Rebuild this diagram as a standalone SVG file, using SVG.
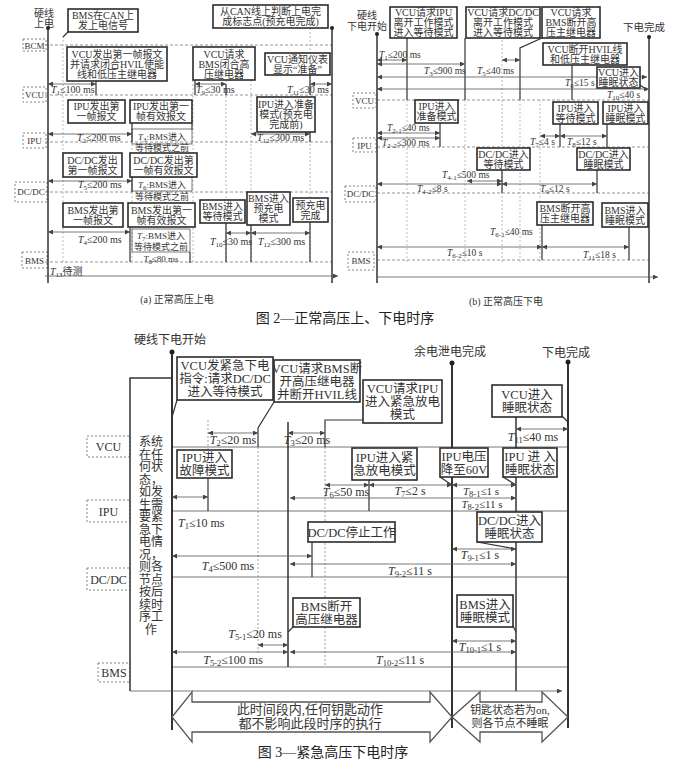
<svg xmlns="http://www.w3.org/2000/svg" width="694" height="781" viewBox="0 0 694 781">
<defs>
<marker id="ah" viewBox="0 0 10 10" refX="10" refY="5" markerWidth="6" markerHeight="5" markerUnits="userSpaceOnUse" orient="auto-start-reverse"><path d="M0,0 L10,5 L0,10 z" fill="#444"/></marker>
</defs>
<style>
text{font-family:"Liberation Serif","Noto Sans CJK SC",serif;fill:#333}
.bx{fill:#fff;stroke:#2b2b2b;stroke-width:1.6}
.lb{fill:#fff;stroke:#777;stroke-width:0.9;stroke-dasharray:2 2}
.rd{stroke:#888;stroke-width:0.9;stroke-dasharray:3 2;fill:none}
.rs{stroke:#777;stroke-width:1;fill:none}
.vd{stroke:#aaa;stroke-width:0.8;stroke-dasharray:2 2;fill:none}
.sl{stroke:#333;stroke-width:1.2;fill:none}
.hv{stroke:#333;stroke-width:2;fill:none}
.th{stroke:#555;stroke-width:0.8;fill:none}
.a1{stroke:#555;stroke-width:0.8;fill:none;marker-end:url(#ah)}
.a2{stroke:#555;stroke-width:0.8;fill:none;marker-start:url(#ah);marker-end:url(#ah)}
.f10{font-size:10px;text-anchor:middle}
.f9{font-size:9px;text-anchor:middle}
.f12{font-size:12.5px;text-anchor:middle}
.l10{font-size:10px}
.l9{font-size:9.5px}
.m12{font-size:12px;text-anchor:middle}
.m11{font-size:11px;text-anchor:middle}
.l12{font-size:12px}
.i{font-style:italic}
.s7{font-size:7px}
.s8{font-size:8.5px}
.cap{font-size:14px;text-anchor:middle;fill:#222}
.fat{fill:#fff;stroke:#555;stroke-width:1.3}
</style>

<!-- ================= Panel (a) ================= -->
<g id="a-labels">
<text class="f10" x="44" y="17">硬线</text>
<text class="f10" x="44" y="27">上电</text>
<rect class="lb" x="23" y="39" width="23" height="12"/><text class="f9" x="34.5" y="48.5">BCM</text>
<rect class="lb" x="23" y="87" width="23" height="15"/><text class="f9" x="34.5" y="98">VCU</text>
<rect class="lb" x="23" y="133" width="23" height="15"/><text class="f9" x="34.5" y="144">IPU</text>
<rect class="lb" x="15" y="182" width="32" height="20"/><text class="f9" x="31" y="195">DC/DC</text>
<rect class="lb" x="22" y="252" width="25" height="16"/><text class="f9" x="34.5" y="263.5">BMS</text>
</g>
<g id="a-connectors">
<path class="rd" d="M45,45H332M45,95H332M45,142H332M45,192H332M45,262H332"/>
<path class="vd" d="M63,36V262M132,100V262M193,80V262M226,80V262M251,80V262M310,28V262"/>
<path class="hv" d="M48,28V283M332,28V283" style="stroke-width:1.5"/>
<circle cx="48" cy="28" r="2" fill="#222"/><circle cx="332" cy="28" r="2" fill="#222"/>
<path class="a1" d="M45,276H338"/>
<path class="sl" d="M68,32L63,37M96,80V95M195,80V95M226,84V95M310,75V95M132,123V142M192,123V130M310,128V142M132,177V192M130,227V262M226,223V262M251,225V262M310,222V262M190,252V263"/>
<path class="th" d="M132,129H192V144H132ZM132,177H192V191H132ZM132,229H190V252H132Z"/>
<path class="a2" d="M48,84H96"/><path class="a2" d="M195,84H226"/><path class="a2" d="M310,84H332"/>
<path class="a2" d="M48,134H132"/><path class="a2" d="M251,134H310"/>
<path class="a2" d="M48,181H132"/>
<path class="a2" d="M48,232H130"/><path class="a2" d="M226,233H251"/><path class="a2" d="M251,233H310"/>
</g>
<g id="a-timing">
<text class="l10" x="51" y="93"><tspan class="i">T</tspan><tspan class="s7" dy="2">1</tspan><tspan dy="-2">≤100 ms</tspan></text>
<text class="l10" x="196" y="93"><tspan class="i">T</tspan><tspan class="s7" dy="2">9</tspan><tspan dy="-2">≤30 ms</tspan></text>
<text class="l10" x="287" y="93"><tspan class="i">T</tspan><tspan class="s7" dy="2">11</tspan><tspan dy="-2">≤30 ms</tspan></text>
<text class="l10" x="77" y="141"><tspan class="i">T</tspan><tspan class="s7" dy="2">2</tspan><tspan dy="-2">≤200 ms</tspan></text>
<text class="f9" x="162" y="139.5"><tspan class="i">T</tspan><tspan class="s7" dy="2">3</tspan><tspan dy="-2">:BMS进入</tspan></text>
<text class="f9" x="162" y="151">等待模式之前</text>
<text class="l10" x="257" y="141"><tspan class="i">T</tspan><tspan class="s7" dy="2">12</tspan><tspan dy="-2">≤300 ms</tspan></text>
<text class="l10" x="78" y="188"><tspan class="i">T</tspan><tspan class="s7" dy="2">5</tspan><tspan dy="-2">≤200 ms</tspan></text>
<text class="f9" x="162" y="187.5"><tspan class="i">T</tspan><tspan class="s7" dy="2">6</tspan><tspan dy="-2">:BMS进入</tspan></text>
<text class="f9" x="162" y="199.5">等待模式之前</text>
<text class="l10" x="78" y="243"><tspan class="i">T</tspan><tspan class="s7" dy="2">4</tspan><tspan dy="-2">≤200 ms</tspan></text>
<text class="f9" x="161" y="239"><tspan class="i">T</tspan><tspan class="s7" dy="2">7</tspan><tspan dy="-2">:BMS进入</tspan></text>
<text class="f9" x="161" y="250">等待模式之前</text>
<text class="f9" x="161" y="261.5"><tspan class="i">T</tspan><tspan class="s7" dy="2">8</tspan><tspan dy="-2">≤80 ms</tspan></text>
<text class="l10" x="210" y="245"><tspan class="i">T</tspan><tspan class="s7" dy="2">10</tspan><tspan dy="-2">≤30 ms</tspan></text>
<text class="l10" x="258" y="245"><tspan class="i">T</tspan><tspan class="s7" dy="2">12</tspan><tspan dy="-2">≤300 ms</tspan></text>
<text class="l10" x="50" y="275"><tspan class="i">T</tspan><tspan class="s7" dy="2">13</tspan><tspan dy="-2">待测</tspan></text>
</g>
<g id="a1"><rect class="bx" x="68" y="9" width="70" height="23"/><text class="f10" x="103" y="18.8">BMS在CAN上</text><text class="f10" x="103" y="29">发上电信号</text></g>
<g id="a2"><rect class="bx" x="213" y="5" width="115" height="23"/><text class="f10" x="270.5" y="14.8">从CAN线上判断上电完</text><text class="f10" x="270.5" y="25">成标志点(预充电完成)</text></g>
<g id="a3"><rect class="bx" x="67" y="47" width="100" height="34"/><text class="f10" x="117" y="58">VCU发出第一帧报文</text><text class="f10" x="117" y="68">并请求闭合HVIL使能</text><text class="f10" x="117" y="78">线和低压主继电器</text></g>
<g id="a4"><rect class="bx" x="193" y="47" width="62" height="33"/><text class="f10" x="224" y="57.5">VCU请求</text><text class="f10" x="224" y="67.5">BMS闭合高</text><text class="f10" x="224" y="77.5">压继电器</text></g>
<g id="a5"><rect class="bx" x="265" y="53" width="65" height="22"/><text class="f10" x="297.5" y="62.5">VCU通知仪表</text><text class="f10" x="297.5" y="72.5">显示“准备”</text></g>
<g id="a6"><rect class="bx" x="68" y="100" width="57" height="23"/><text class="f10" x="96.5" y="110">IPU发出第</text><text class="f10" x="96.5" y="120">一帧报文</text></g>
<g id="a7"><rect class="bx" x="130" y="100" width="62" height="23"/><text class="f10" x="161" y="110">IPU发出第一</text><text class="f10" x="161" y="120">帧有效报文</text></g>
<g id="a8"><rect class="bx" x="257" y="97" width="58" height="35"/><text class="f10" x="286" y="108">IPU进入准备</text><text class="f10" x="286" y="118">模式(预充电</text><text class="f10" x="286" y="128">完成前)</text></g>
<g id="a9"><rect class="bx" x="63" y="153" width="59" height="24"/><text class="f10" x="92.5" y="163.5">DC/DC发出</text><text class="f10" x="92.5" y="173.5">第一帧报文</text></g>
<g id="a10"><rect class="bx" x="130" y="153" width="67" height="24"/><text class="f10" x="163.5" y="163.5">DC/DC发出第</text><text class="f10" x="163.5" y="173.5">一帧有效报文</text></g>
<g id="a11"><rect class="bx" x="63" y="203" width="60" height="24"/><text class="f10" x="93" y="213.5">BMS发出第</text><text class="f10" x="93" y="223.5">一帧报文</text></g>
<g id="a12"><rect class="bx" x="128" y="203" width="67" height="24"/><text class="f10" x="161.5" y="213.5">BMS发出第一</text><text class="f10" x="161.5" y="223.5">帧有效报文</text></g>
<g id="a13"><rect class="bx" x="200" y="200" width="45" height="23"/><text class="f10" x="222.5" y="210">BMS进入</text><text class="f10" x="222.5" y="220">等待模式</text></g>
<g id="a14"><rect class="bx" x="247" y="192" width="43" height="33"/><text class="f10" x="268.5" y="202">BMS进入</text><text class="f10" x="268.5" y="212">预充电</text><text class="f10" x="268.5" y="222">模式</text></g>
<g id="a15"><rect class="bx" x="293" y="198" width="35" height="24"/><text class="f10" x="310.5" y="208.5">预充电</text><text class="f10" x="310.5" y="218.5">完成</text></g>
<text class="f10" x="177" y="303">(a) 正常高压上电</text>

<!-- ================= Panel (b) ================= -->
<g id="b-labels">
<text class="f10" x="367" y="19">硬线</text>
<text class="f10" x="367" y="30">下电开始</text>
<text class="f10" x="644" y="31" style="font-size:10.5px">下电完成</text>
<rect class="lb" x="353" y="93" width="23" height="15"/><text class="f9" x="364.5" y="104">VCU</text>
<rect class="lb" x="353" y="138" width="23" height="14"/><text class="f9" x="364.5" y="148.5">IPU</text>
<rect class="lb" x="345" y="186" width="31" height="16"/><text class="f9" x="360.5" y="197">DC/DC</text>
<rect class="lb" x="348" y="252" width="26" height="18"/><text class="f9" x="361" y="264">BMS</text>
</g>
<g id="b-connectors">
<path class="rd" d="M377,100H649M377,147H649M377,193H649M377,260H649"/>
<path class="vd" d="M407,100V262M465,100V262M502,40V262M520,100V262M540,100V262"/>
<path class="hv" d="M377,34V283M649,37V283" style="stroke-width:1.5"/>
<circle cx="377" cy="34" r="2" fill="#222"/><circle cx="649" cy="37" r="2" fill="#222"/>
<path class="a1" d="M377,277H658"/>
<path class="sl" d="M407,38V100M465,38V100M542,38L520,48V100M572,65V100M640,85L647,90M440,123V147M560,123V147M607,124V147M502,170V193M597,170V193M542,225V260M629,227V260"/>
<path class="a2" d="M377,60H407"/><path class="a2" d="M377,64H465"/><path class="a2" d="M502,60H520"/>
<path class="a2" d="M377,77H647"/><path class="a2" d="M377,89H649"/>
<path class="a2" d="M377,133H440"/><path class="a2" d="M377,138H440"/>
<path class="a2" d="M540,136H560"/><path class="a2" d="M560,136H607"/>
<path class="a2" d="M467,181H502"/><path class="a2" d="M377,184H502"/><path class="a2" d="M502,184H597"/>
<path class="a2" d="M377,247H542"/><path class="a2" d="M542,247H629"/>
</g>
<g id="b-timing">
<text class="l9" x="379" y="58"><tspan class="i">T</tspan><tspan class="s7" dy="2">1</tspan><tspan dy="-2">≤200 ms</tspan></text>
<text class="l9" x="424" y="74"><tspan class="i">T</tspan><tspan class="s7" dy="2">3</tspan><tspan dy="-2">≤900 ms</tspan></text>
<text class="l9" x="477" y="74"><tspan class="i">T</tspan><tspan class="s7" dy="2">5</tspan><tspan dy="-2">≤40 ms</tspan></text>
<text class="l9" x="565" y="86"><tspan class="i">T</tspan><tspan class="s7" dy="2">6</tspan><tspan dy="-2">≤15 s</tspan></text>
<text class="l9" x="607" y="98"><tspan class="i">T</tspan><tspan class="s7" dy="2">10</tspan><tspan dy="-2">≤40 s</tspan></text>
<text class="l9" x="387" y="131"><tspan class="i">T</tspan><tspan class="s7" dy="2">2-1</tspan><tspan dy="-2">≤40 ms</tspan></text>
<text class="l9" x="382" y="146"><tspan class="i">T</tspan><tspan class="s7" dy="2">2-2</tspan><tspan dy="-2">≤300 ms</tspan></text>
<text class="l9" x="530" y="145"><tspan class="i">T</tspan><tspan class="s7" dy="2">7</tspan><tspan dy="-2">≤4 s</tspan></text>
<text class="l9" x="567" y="145"><tspan class="i">T</tspan><tspan class="s7" dy="2">8</tspan><tspan dy="-2">≤12 s</tspan></text>
<text class="l9" x="442" y="178"><tspan class="i">T</tspan><tspan class="s7" dy="2">4-1</tspan><tspan dy="-2">≤500 ms</tspan></text>
<text class="l9" x="417" y="192"><tspan class="i">T</tspan><tspan class="s7" dy="2">4-2</tspan><tspan dy="-2">≤8 s</tspan></text>
<text class="l9" x="540" y="192"><tspan class="i">T</tspan><tspan class="s7" dy="2">9</tspan><tspan dy="-2">≤12 s</tspan></text>
<text class="l9" x="490" y="235"><tspan class="i">T</tspan><tspan class="s7" dy="2">6-1</tspan><tspan dy="-2">≤40 ms</tspan></text>
<text class="l9" x="447" y="256"><tspan class="i">T</tspan><tspan class="s7" dy="2">6-2</tspan><tspan dy="-2">≤10 s</tspan></text>
<text class="l9" x="583" y="258"><tspan class="i">T</tspan><tspan class="s7" dy="2">11</tspan><tspan dy="-2">≤18 s</tspan></text>
</g>
<g id="b1"><rect class="bx" x="390" y="7" width="67" height="31"/><text class="f10" x="423.5" y="16">VCU请求IPU</text><text class="f10" x="423.5" y="26">离开工作模式</text><text class="f10" x="423.5" y="36">进入等待模式</text></g>
<g id="b2"><rect class="bx" x="466" y="7" width="74" height="31"/><text class="f10" x="503" y="16">VCU请求DC/DC</text><text class="f10" x="503" y="26">离开工作模式</text><text class="f10" x="503" y="36">进入等待模式</text></g>
<g id="b3"><rect class="bx" x="542" y="7" width="58" height="31"/><text class="f10" x="571" y="16">VCU请求</text><text class="f10" x="571" y="26">BMS断开高</text><text class="f10" x="571" y="36">压主继电器</text></g>
<g id="b4"><rect class="bx" x="543" y="43" width="84" height="22"/><text class="f10" x="585" y="52.5">VCU断开HVIL线</text><text class="f10" x="585" y="62.5">和低压主继电器</text></g>
<g id="b5"><rect class="bx" x="597" y="67" width="43" height="21"/><text class="f10" x="618.5" y="76">VCU进入</text><text class="f10" x="618.5" y="86">睡眠状态</text></g>
<g id="b6"><rect class="bx" x="415" y="100" width="43" height="23"/><text class="f10" x="436.5" y="110">IPU进入</text><text class="f10" x="436.5" y="120">准备模式</text></g>
<g id="b7"><rect class="bx" x="553" y="102" width="45" height="22"/><text class="f10" x="575.5" y="111.5">IPU进入</text><text class="f10" x="575.5" y="121.5">等待模式</text></g>
<g id="b8"><rect class="bx" x="603" y="102" width="45" height="22"/><text class="f10" x="625.5" y="111.5">IPU进入</text><text class="f10" x="625.5" y="121.5">睡眠模式</text></g>
<g id="b9"><rect class="bx" x="477" y="148" width="53" height="22"/><text class="f10" x="503.5" y="157.5">DC/DC进入</text><text class="f10" x="503.5" y="167.5">等待模式</text></g>
<g id="b10"><rect class="bx" x="577" y="148" width="53" height="22"/><text class="f10" x="603.5" y="157.5">DC/DC进入</text><text class="f10" x="603.5" y="167.5">睡眠模式</text></g>
<g id="b11"><rect class="bx" x="537" y="202" width="56" height="23"/><text class="f10" x="565" y="212">BMS断开高</text><text class="f10" x="565" y="222">压主继电器</text></g>
<g id="b12"><rect class="bx" x="602" y="203" width="46" height="24"/><text class="f10" x="625" y="213.5">BMS进入</text><text class="f10" x="625" y="223.5">睡眠模式</text></g>
<text class="f10" x="506" y="305">(b) 正常高压下电</text>

<text class="cap" x="345" y="323">图 2—正常高压上、下电时序</text>

<!-- ================= Figure 3 ================= -->
<g id="f3-labels">
<text class="m12" x="170" y="344">硬线下电开始</text>
<text class="m12" x="450" y="356">余电泄电完成</text>
<text class="m12" x="566" y="357">下电完成</text>
<rect class="lb" x="87" y="436" width="43" height="21"/><text class="m12" x="108.5" y="451">VCU</text>
<rect class="lb" x="87" y="500" width="43" height="22"/><text class="m12" x="108.5" y="515.5">IPU</text>
<rect class="lb" x="87" y="568" width="43" height="22"/><text class="m12" x="108.5" y="583.5">DC/DC</text>
<rect class="lb" x="98" y="663" width="32" height="19"/><text class="m12" x="114" y="677">BMS</text>
</g>
<g id="f3-system">
<path class="sl" d="M172,378H130V691" style="stroke-width:1.5"/>
<text class="m12" x="151" y="446">系统</text>
<text class="m12" x="151" y="458.5">在任</text>
<text class="m12" x="151" y="471">何状</text>
<text class="m12" x="151" y="483.5">态，</text>
<text class="m12" x="151" y="496">如发</text>
<text class="m12" x="151" y="508.5">生需</text>
<text class="m12" x="151" y="521">要紧</text>
<text class="m12" x="151" y="533.5">急下</text>
<text class="m12" x="151" y="546">电情</text>
<text class="m12" x="151" y="558.5">况，</text>
<text class="m12" x="151" y="571">则各</text>
<text class="m12" x="151" y="583.5">节点</text>
<text class="m12" x="151" y="596">按后</text>
<text class="m12" x="151" y="608.5">续时</text>
<text class="m12" x="151" y="621">序工</text>
<text class="m12" x="151" y="633.5">作</text>
</g>
<g id="f3-connectors">
<path class="rs" d="M172,447H568M172,511H568M172,577H568M172,667H568"/>
<path class="vd" d="M208,420V478M258,447V653M325,447V667" style="stroke:#888"/>
<path class="hv" d="M172,352V730M452,363V728M568,362V728"/>
<circle cx="172" cy="352" r="2.5" fill="#222"/><circle cx="452" cy="363" r="2.5" fill="#222"/><circle cx="568" cy="362" r="2.5" fill="#222"/>
<path class="sl" d="M516,417V691M288,422V667" style="stroke-width:1.5"/>
<path class="sl" d="M177,400L172,417M274,402L258,428V447M363,420H325V447M562,416L568,422M208,478V511M369,480V511M440,477L452,485M503,477L516,485M312,542V577M477,542L516,549M293,627L288,632M513,626L516,632"/>
<path class="a1" d="M130,691H562"/>
<path class="a2" d="M208,433H258"/><path class="a2" d="M288,433H325"/><path class="a2" d="M516,429H568"/>
<path class="a2" d="M172,497H208"/><path class="a2" d="M325,485H369"/><path class="a2" d="M369,485H452"/><path class="a2" d="M452,485H516"/><path class="a2" d="M290,498H516"/>
<path class="a2" d="M172,556H312"/><path class="a2" d="M452,549H516"/><path class="a2" d="M290,564H516"/>
<path class="a2" d="M258,645H288"/><path class="a2" d="M172,652H288"/><path class="a2" d="M452,641H516"/><path class="a2" d="M290,652H516"/>
<path class="fat" d="M172,717L192,692V702H430V692L452,717L430,742V732H192V742Z"/>
<path class="fat" d="M452,717L480,692V702H542V692L568,717L542,742V732H480V742Z"/>
</g>
<g id="f3-timing">
<text class="m12" x="233" y="444"><tspan class="i">T</tspan><tspan class="s8" dy="2">2</tspan><tspan dy="-2">≤20 ms</tspan></text>
<text class="m12" x="307" y="444"><tspan class="i">T</tspan><tspan class="s8" dy="2">3</tspan><tspan dy="-2">≤20 ms</tspan></text>
<text class="m12" x="533" y="441"><tspan class="i">T</tspan><tspan class="s8" dy="2">11</tspan><tspan dy="-2">≤40 ms</tspan></text>
<text class="l12" x="178" y="527"><tspan class="i">T</tspan><tspan class="s8" dy="2">1</tspan><tspan dy="-2">≤10 ms</tspan></text>
<text class="m12" x="346" y="496"><tspan class="i">T</tspan><tspan class="s8" dy="2">6</tspan><tspan dy="-2">≤50 ms</tspan></text>
<text class="m12" x="410" y="495"><tspan class="i">T</tspan><tspan class="s8" dy="2">7</tspan><tspan dy="-2">≤2 s</tspan></text>
<text class="m11" x="481" y="495"><tspan class="i">T</tspan><tspan class="s8" dy="2">8-1</tspan><tspan dy="-2">≤1 s</tspan></text>
<text class="m11" x="482" y="507.5"><tspan class="i">T</tspan><tspan class="s8" dy="2">8-2</tspan><tspan dy="-2">≤11 s</tspan></text>
<text class="m12" x="228" y="570"><tspan class="i">T</tspan><tspan class="s8" dy="2">4</tspan><tspan dy="-2">≤500 ms</tspan></text>
<text class="m12" x="480" y="559"><tspan class="i">T</tspan><tspan class="s8" dy="2">9-1</tspan><tspan dy="-2">≤1 s</tspan></text>
<text class="m12" x="410" y="575"><tspan class="i">T</tspan><tspan class="s8" dy="2">9-2</tspan><tspan dy="-2">≤11 s</tspan></text>
<text class="m12" x="255" y="638"><tspan class="i">T</tspan><tspan class="s8" dy="2">5-1</tspan><tspan dy="-2">≤20 ms</tspan></text>
<text class="m12" x="233" y="664"><tspan class="i">T</tspan><tspan class="s8" dy="2">5-2</tspan><tspan dy="-2">≤100 ms</tspan></text>
<text class="m12" x="480" y="651"><tspan class="i">T</tspan><tspan class="s8" dy="2">10-1</tspan><tspan dy="-2">≤1 s</tspan></text>
<text class="m12" x="400" y="664"><tspan class="i">T</tspan><tspan class="s8" dy="2">10-2</tspan><tspan dy="-2">≤11 s</tspan></text>
</g>
<g id="c1"><rect class="bx" x="177" y="357" width="96" height="43"/><text class="f12" x="225" y="370">VCU发紧急下电</text><text class="f12" x="225" y="383">指令:请求DC/DC</text><text class="f12" x="225" y="396">进入等待模式</text></g>
<g id="c2"><rect class="bx" x="274" y="360" width="86" height="42"/><text class="f12" x="317" y="372.5">VCU请求BMS断</text><text class="f12" x="317" y="385.5">开高压继电器</text><text class="f12" x="317" y="398.5">并断开HVIL线</text></g>
<g id="c3"><rect class="bx" x="363" y="380" width="79" height="43"/><text class="f12" x="402.5" y="393">VCU请求IPU</text><text class="f12" x="402.5" y="406">进入紧急放电</text><text class="f12" x="402.5" y="419">模式</text></g>
<g id="c4"><rect class="bx" x="492" y="385" width="70" height="32"/><text class="f12" x="527" y="399">VCU进入</text><text class="f12" x="527" y="412">睡眠状态</text></g>
<g id="c5"><rect class="bx" x="177" y="450" width="55" height="28"/><text class="f12" x="204.5" y="462">IPU进入</text><text class="f12" x="204.5" y="475">故障模式</text></g>
<g id="c6"><rect class="bx" x="352" y="448" width="65" height="32"/><text class="f12" x="384.5" y="462">IPU进入紧</text><text class="f12" x="384.5" y="475">急放电模式</text></g>
<g id="c7"><rect class="bx" x="440" y="448" width="48" height="29"/><text class="f12" x="464" y="460.5">IPU电压</text><text class="f12" x="464" y="473.5">降至60V</text></g>
<g id="c8"><rect class="bx" x="503" y="448" width="54" height="29"/><text class="f12" x="530" y="460.5">IPU 进 入</text><text class="f12" x="530" y="473.5">睡眠状态</text></g>
<g id="c9"><rect class="bx" x="308" y="522" width="87" height="20"/><text class="f12" x="351.5" y="536.5">DC/DC停止工作</text></g>
<g id="c10"><rect class="bx" x="477" y="512" width="65" height="30"/><text class="f12" x="509.5" y="525">DC/DC进入</text><text class="f12" x="509.5" y="538">睡眠状态</text></g>
<g id="c11"><rect class="bx" x="293" y="598" width="67" height="29"/><text class="f12" x="326.5" y="610.5">BMS断开</text><text class="f12" x="326.5" y="623.5">高压继电器</text></g>
<g id="c12"><rect class="bx" x="457" y="595" width="56" height="32"/><text class="f12" x="485" y="609">BMS进入</text><text class="f12" x="485" y="622">睡眠模式</text></g>
<g id="f3-arrowtext">
<text class="m12" x="310" y="714" style="font-size:13px">此时间段内,任何钥匙动作</text>
<text class="m12" x="310" y="728" style="font-size:13px">都不影响此段时序的执行</text>
<text class="m12" x="510" y="714" style="font-size:11px">钥匙状态若为on,</text>
<text class="m12" x="510" y="727" style="font-size:11px">则各节点不睡眠</text>
</g>
<text class="cap" x="333" y="757">图 3—紧急高压下电时序</text>
</svg>
